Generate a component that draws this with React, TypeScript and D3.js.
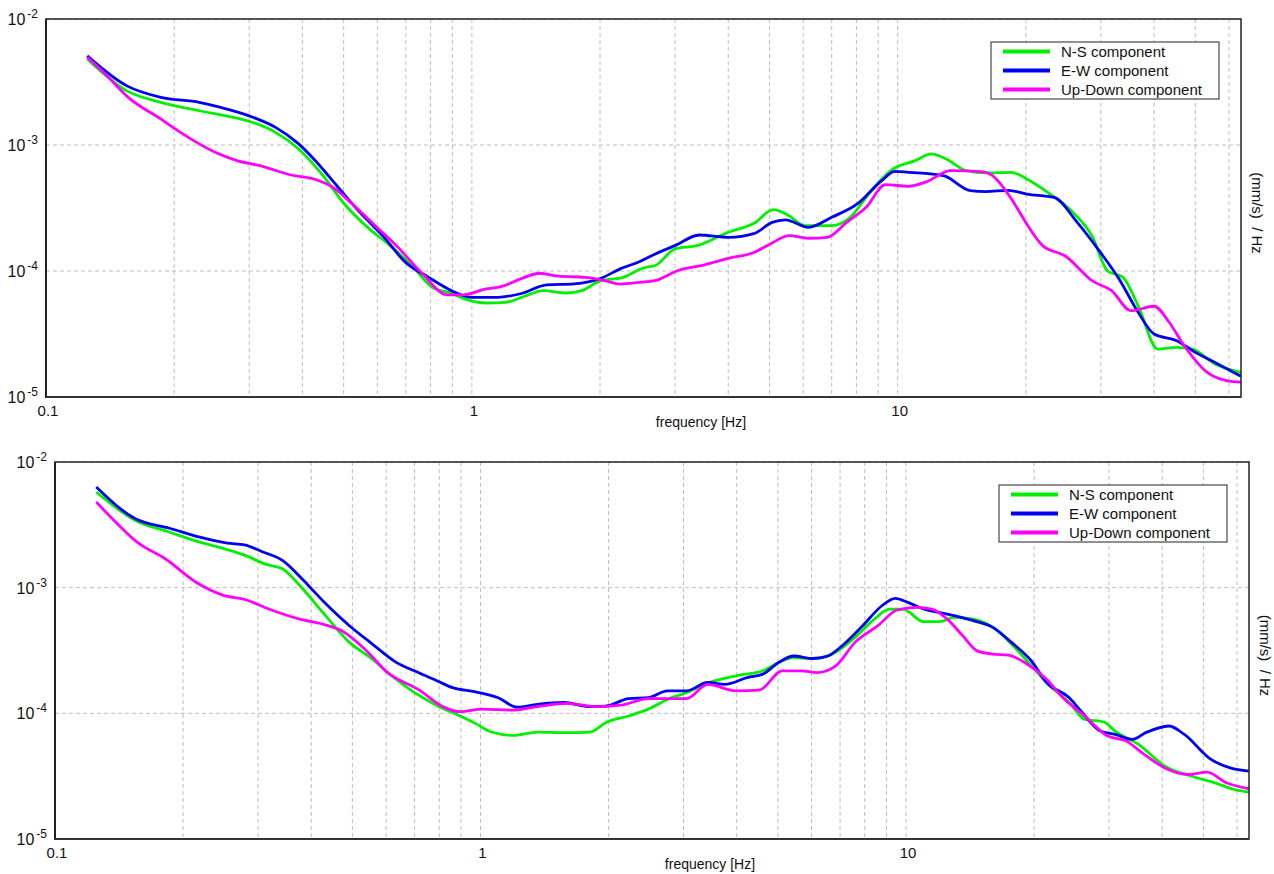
import React from 'react'
import * as d3 from 'd3'

// top panel readings
const topFreqNS = [0.125, 0.1545, 0.186, 0.229, 0.27, 0.306, 0.346, 0.392, 0.444, 0.502, 0.569, 0.643, 0.729, 0.808, 0.896, 0.973, 1.08, 1.2, 1.33, 1.47, 1.67, 1.81, 2.01, 2.27,
  2.48, 2.56, 2.69, 3.0, 3.38, 4.0, 4.61, 5.1, 5.56, 6.04, 7.0, 7.74, 8.6, 9.75, 11.0, 12.0, 13.0, 14.5, 16.1, 18.5, 20.1, 22.8, 25.8, 28.6, 31.1, 33.8, 36.7, 40.8, 45.2, 49.2, 55.6, 64]
const topNS = [4.82e-3, 2.70e-3, 2.18e-3, 1.87e-3, 1.68e-3, 1.51e-3, 1.26e-3, 9.3e-4, 5.89e-4, 3.4e-4, 2.22e-4, 1.59e-4, 1.07e-4, 7.41e-5, 6.65e-5, 5.92e-5, 5.57e-5, 5.64e-5, 6.3e-5, 6.98e-5, 6.69e-5, 6.98e-5, 8.38e-5, 8.9e-5,
  1.03e-4, 1.07e-4, 1.10e-4, 1.5e-4, 1.59e-4, 2.03e-4, 2.40e-4, 3.07e-4, 2.75e-4, 2.29e-4, 2.29e-4, 2.67e-4, 4.2e-4, 6.45e-4, 7.52e-4, 8.49e-4, 7.74e-4, 6.25e-4, 6.0e-4, 6.07e-4, 5.37e-4, 4.08e-4, 2.92e-4, 1.9e-4, 1.0e-4, 8.9e-5, 5.3e-5, 2.4e-5, 2.48e-5, 2.4e-5, 1.83e-5, 1.57e-5]

const topFreqEW = [0.125, 0.1545, 0.186, 0.229, 0.27, 0.306, 0.346, 0.392, 0.426, 0.482, 0.546, 0.618, 0.699, 0.792, 0.896, 0.994, 1.15, 1.30, 1.50, 1.74, 2.01, 2.23, 2.48, 2.69, 3.0, 3.42,
  4.0, 4.61, 5.07, 5.45, 6.17, 7.0, 8.07, 9.16, 9.85, 10.6, 12.8, 14.8, 16.1, 18.2, 20.1, 23.3, 26.4, 29.9, 33.1, 36.7, 40, 45.2, 50, 55.6, 64]
const topEW = [5.1e-3, 2.96e-3, 2.39e-3, 2.18e-3, 1.9e-3, 1.66e-3, 1.38e-3, 1.02e-3, 7.7e-4, 4.75e-4, 2.92e-4, 1.9e-4, 1.17e-4, 8.9e-5, 6.98e-5, 6.18e-5, 6.18e-5, 6.6e-5, 7.75e-5, 7.9e-5, 8.75e-5, 1.04e-4, 1.19e-4, 1.36e-4, 1.59e-4, 1.93e-4,
  1.85e-4, 1.99e-4, 2.43e-4, 2.55e-4, 2.22e-4, 2.67e-4, 3.44e-4, 5.2e-4, 6.18e-4, 6.07e-4, 5.71e-4, 4.35e-4, 4.27e-4, 4.37e-4, 4.08e-4, 3.84e-4, 2.43e-4, 1.41e-4, 8.65e-5, 4.7e-5, 3.16e-5, 2.8e-5, 2.26e-5, 1.88e-5, 1.46e-5]

const topFreqUD = [0.125, 0.139, 0.156, 0.186, 0.210, 0.248, 0.281, 0.318, 0.376, 0.426, 0.472, 0.524, 0.593, 0.671, 0.760, 0.878, 0.953, 1.08, 1.17, 1.33, 1.44, 1.60, 1.85, 2.05, 2.23, 2.48, 2.69, 3.05,
  3.52, 4.0, 4.61, 5.02, 5.56, 6.17, 6.84, 7.59, 8.43, 9.36, 10.6, 11.7, 13.3, 15.7, 16.7, 18.5, 20.1, 21.9, 24.8, 28.6, 31.8, 35.3, 40, 43.4, 47.1, 53.3, 59.2, 64]
const topUD = [4.97e-3, 3.55e-3, 2.39e-3, 1.61e-3, 1.22e-3, 8.85e-4, 7.52e-4, 6.86e-4, 5.78e-4, 5.37e-4, 4.61e-4, 3.4e-4, 2.29e-4, 1.54e-4, 9.76e-5, 6.46e-5, 6.46e-5, 7.2e-5, 7.51e-5, 8.9e-5, 9.6e-5, 9.1e-5, 8.9e-5, 8.38e-5, 7.88e-5, 8.13e-5, 8.38e-5, 1.01e-4,
  1.12e-4, 1.26e-4, 1.41e-4, 1.64e-4, 1.91e-4, 1.82e-4, 1.85e-4, 2.43e-4, 3.2e-4, 4.84e-4, 4.70e-4, 5.12e-4, 6.25e-4, 6.14e-4, 5.71e-4, 3.73e-4, 2.36e-4, 1.59e-4, 1.31e-4, 8.38e-5, 6.98e-5, 4.84e-5, 5.25e-5, 3.92e-5, 2.55e-5, 1.57e-5, 1.35e-5, 1.31e-5]

// bottom panel readings
const botFreqNS = [0.125, 0.1545, 0.186, 0.219, 0.254, 0.281, 0.312, 0.343, 0.376, 0.426, 0.492, 0.557, 0.618, 0.700, 0.792, 0.896, 0.973, 1.06, 1.20, 1.36, 1.60, 1.81, 1.97, 2.23, 2.48, 2.75, 3.05, 3.45,
  3.99, 4.61, 5.02, 5.45, 6.04, 6.70, 7.59, 8.43, 9.14, 9.84, 11.0, 12.0, 13.0, 14.4, 16.0, 17.7, 19.7, 21.8, 24.2, 26.3, 29.2, 31.0, 35.2, 40.6, 47.0, 53.2, 59.0, 64]
const botNS = [5.77e-3, 3.43e-3, 2.76e-3, 2.30e-3, 2.01e-3, 1.80e-3, 1.54e-3, 1.41e-3, 1.04e-3, 6.36e-4, 3.67e-4, 2.70e-4, 1.99e-4, 1.46e-4, 1.15e-4, 9.53e-5, 8.32e-5, 7.1e-5, 6.67e-5, 7.1e-5, 7.02e-5, 7.1e-5, 8.43e-5, 9.53e-5, 1.08e-4, 1.29e-4, 1.46e-4, 1.76e-4,
  1.99e-4, 2.18e-4, 2.54e-4, 2.78e-4, 2.73e-4, 2.96e-4, 4.02e-4, 5.62e-4, 6.76e-4, 6.76e-4, 5.36e-4, 5.36e-4, 5.80e-4, 5.62e-4, 4.83e-4, 3.56e-4, 2.39e-4, 1.65e-4, 1.22e-4, 8.95e-5, 8.53e-5, 7.23e-5, 5.66e-5, 3.8e-5, 3.16e-5, 2.8e-5, 2.48e-5, 2.36e-5]

const botFreqEW = [0.125, 0.1545, 0.186, 0.219, 0.254, 0.279, 0.306, 0.343, 0.384, 0.426, 0.492, 0.557, 0.631, 0.714, 0.792, 0.860, 0.973, 1.10, 1.22, 1.36, 1.57, 1.81, 1.97, 2.23, 2.48, 2.75, 3.05, 3.42, 3.75,
  4.25, 4.61, 5.02, 5.45, 6.04, 6.56, 7.0, 7.91, 8.78, 9.44, 10.1, 11.0, 12.5, 14.4, 16.0, 17.7, 19.7, 21.4, 24.2, 25.8, 28.6, 31.0, 34.1, 36.6, 41.5, 45.1, 52.1, 57.8, 64]
const botEW = [6.32e-3, 3.53e-3, 2.97e-3, 2.52e-3, 2.26e-3, 2.19e-3, 1.94e-3, 1.64e-3, 1.14e-3, 7.87e-4, 4.98e-4, 3.56e-4, 2.57e-4, 2.11e-4, 1.81e-4, 1.60e-4, 1.48e-4, 1.33e-4, 1.12e-4, 1.18e-4, 1.22e-4, 1.13e-4, 1.14e-4, 1.31e-4, 1.33e-4, 1.51e-4, 1.51e-4, 1.76e-4, 1.70e-4,
  1.93e-4, 2.05e-4, 2.54e-4, 2.86e-4, 2.73e-4, 2.86e-4, 3.34e-4, 4.98e-4, 7.18e-4, 8.22e-4, 7.64e-4, 6.76e-4, 6.17e-4, 5.46e-4, 4.83e-4, 3.67e-4, 2.62e-4, 1.76e-4, 1.33e-4, 1.04e-4, 7.23e-5, 6.79e-5, 6.21e-5, 7.02e-5, 7.93e-5, 6.79e-5, 4.3e-5, 3.68e-5, 3.47e-5]

const botFreqUD = [0.125, 0.139, 0.156, 0.182, 0.215, 0.248, 0.281, 0.318, 0.376, 0.426, 0.472, 0.535, 0.605, 0.714, 0.825, 0.896, 1.01, 1.20, 1.36, 1.60, 1.89, 2.14, 2.48, 3.05, 3.42, 3.99,
  4.52, 5.12, 5.68, 6.17, 6.84, 7.59, 8.59, 9.53, 10.6, 11.5, 12.5, 13.6, 14.7, 16.0, 17.4, 19.3, 21.4, 23.2, 26.3, 29.8, 33.0, 35.9, 40.6, 46.0, 51.0, 56.6, 64]
const botUD = [4.80e-3, 3.32e-3, 2.30e-3, 1.69e-3, 1.10e-3, 8.73e-4, 8.01e-4, 6.76e-4, 5.62e-4, 5.13e-4, 4.54e-4, 3.24e-4, 2.11e-4, 1.55e-4, 1.11e-4, 1.03e-4, 1.08e-4, 1.06e-4, 1.13e-4, 1.20e-4, 1.13e-4, 1.16e-4, 1.31e-4, 1.31e-4, 1.70e-4, 1.51e-4,
  1.53e-4, 2.18e-4, 2.18e-4, 2.11e-4, 2.39e-4, 3.67e-4, 4.98e-4, 6.64e-4, 6.97e-4, 6.76e-4, 5.62e-4, 4.14e-4, 3.14e-4, 2.96e-4, 2.90e-4, 2.46e-4, 1.87e-4, 1.37e-4, 9.53e-5, 6.59e-5, 6.01e-5, 4.85e-5, 3.68e-5, 3.26e-5, 3.4e-5, 2.8e-5, 2.51e-5]

const seriesNames = ['N-S component', 'E-W component', 'Up-Down component']
const seriesColors = ['#00f000', '#0000f0', '#ff00ff']
const xTickLabels = ['0.1', '1', '10']
const yTickExps = ['-2', '-3', '-4', '-5']

const FONT = '"Liberation Sans", Arial, sans-serif'

const Panel = ({ id, left, top, right, bottom, freqs, values }) => {
  let x = d3.scaleLog().domain([0.1, 64]).range([left, right])
  let y = d3.scaleLog().domain([1e-5, 1e-2]).range([bottom, top])

  let minor = []
  for (let dec of [0.1, 1, 10]) {
    for (let k = 1; k <= 9; k++) {
      let f = k * dec
      if (f <= 64.0001) minor.push(f)
    }
  }
  let yGrid = [1e-2, 1e-3, 1e-4, 1e-5]

  let line = d3.line().x(d => x(d[0])).y(d => y(d[1])).curve(d3.curveMonotoneX)

  let lx = right - 22 - 228
  let ly = top + 23

  return (
    <g>
      <defs>
        <clipPath id={'clip' + id}>
          <rect x={left} y={top} width={right - left} height={bottom - top} />
        </clipPath>
      </defs>
      <rect x={left} y={top} width={right - left} height={bottom - top} fill='#fff' />
      {minor.map((f, i) =>
        <line key={'vx' + i} x1={x(f)} x2={x(f)} y1={top} y2={bottom} stroke='#bdbdbd' strokeDasharray='4 3' />)}
      {yGrid.map((v, i) =>
        <line key={'hy' + i} x1={left} x2={right} y1={y(v)} y2={y(v)} stroke='#bdbdbd' strokeDasharray='4 3' />)}

      <g clipPath={`url(#clip${id})`}>
        {values.map((vals, si) =>
          <path key={'s' + si}
            d={line(freqs[si].map((f, j) => [f, vals[j]]))}
            fill='none' stroke={seriesColors[si]} strokeWidth={2.8} strokeLinejoin='round' />)}
      </g>

      <rect x={left} y={top} width={right - left} height={bottom - top} fill='none' stroke='#222' strokeWidth={1.5} />
      <line x1={left} x2={left} y1={top} y2={bottom + 1} stroke='#222' strokeWidth={2} />
      <line x1={left} x2={right} y1={bottom} y2={bottom} stroke='#333' strokeWidth={2} />

      {yGrid.map((v, i) =>
        <text key={'yt' + i} x={left - 8} y={y(v) + 6} textAnchor='end' fontFamily={FONT} fontSize={16} fill='#111'>
          10<tspan dx={2} dy={-7} fontSize={12}>{yTickExps[i]}</tspan>
        </text>)}
      {[0.1, 1, 10].map((f, i) =>
        <text key={'xt' + i} x={x(f) + 2} y={bottom + 19} textAnchor='middle' fontFamily={FONT} fontSize={15} fill='#111'>
          {xTickLabels[i]}
        </text>)}

      <text x={left + 655} y={bottom + 30} textAnchor='middle' fontFamily={FONT} fontSize={14} fill='#111'>frequency [Hz]</text>
      <text transform={`translate(${right + 11},${(top + bottom) / 2 + 5}) rotate(90)`} textAnchor='middle'
        fontFamily={FONT} fontSize={15} fill='#111' style={{ whiteSpace: 'pre' }}>{'(mm/s)  / Hz'}</text>

      <rect x={lx} y={ly} width={228} height={57} fill='#fff' stroke='#222' strokeWidth={1} />
      {seriesNames.map((name, i) =>
        <g key={'lg' + i}>
          <line x1={lx + 12} x2={lx + 59} y1={ly + 9.5 + i * 19} y2={ly + 9.5 + i * 19} stroke={seriesColors[i]} strokeWidth={4} />
          <text x={lx + 70} y={ly + 9.5 + i * 19} dy='0.35em' fontFamily={FONT} fontSize={15} fill='#111'>{name}</text>
        </g>)}
    </g>
  )
}

const App = () => {
  return (
    <svg width={1274} height={874} style={{ position: 'absolute', left: 0, top: 0, background: '#fff' }}>
      <rect width={1274} height={874} fill='#fff' />
      <Panel id='top' left={46} top={19} right={1241} bottom={397}
        freqs={[topFreqNS, topFreqEW, topFreqUD]} values={[topNS, topEW, topUD]} />
      <Panel id='bot' left={55} top={462} right={1249} bottom={839}
        freqs={[botFreqNS, botFreqEW, botFreqUD]} values={[botNS, botEW, botUD]} />
    </svg>
  )
}

export default App
